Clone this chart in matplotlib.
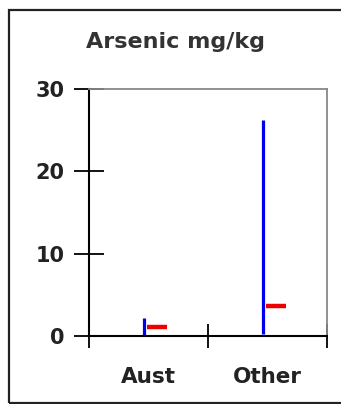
import matplotlib
matplotlib.use("Agg")
from matplotlib import pyplot as plt
from matplotlib.patches import Rectangle

# data (mg/kg)
categories = ['Aust', 'Other']
mins = [0.0, 0.3]
maxs = [2.2, 26.2]
medians = [1.1, 3.6]

plt.rcParams['font.family'] = ['DejaVu Sans']

fig = plt.figure(figsize=(3.41, 4.04), dpi=100)
ax = fig.add_axes([89/341, 1 - 336/404, 238/341, 247/404])

pos = [0.5, 1.5]
ax.vlines([p - 0.034 for p in pos], mins, maxs, color='#0000ee', linewidth=2.3)
ax.hlines(medians, [p - 0.01 for p in pos], [p + 0.155 for p in pos],
          color='#ee0000', linewidth=3.2)

ax.set_xlim(0, 2)
ax.set_ylim(0, 30)
ax.set_yticks([0, 10, 20, 30])
ax.set_yticklabels(['0', '10', '20', '30'], fontsize=15, fontweight='bold',
                   color='#222222')
ax.tick_params(axis='y', direction='inout', length=22, width=1.3, pad=6.5)
ax.set_xticks([0, 1, 2])
ax.set_xticklabels([])
ax.tick_params(axis='x', direction='inout', length=17, width=1.3)
ax.set_xticks(pos, minor=True)
ax.set_xticklabels(categories, minor=True, fontsize=15.5, fontweight='bold',
                   color='#222222')
ax.tick_params(axis='x', which='minor', length=0, pad=22)

for s in ['left', 'bottom']:
    ax.spines[s].set_linewidth(1.5)
    ax.spines[s].set_color('black')
for s in ['top', 'right']:
    ax.spines[s].set_linewidth(1.3)
    ax.spines[s].set_color('#888888')
ax.spines['left'].set_bounds(0, 30)

fig.text(176/341, 1 - 42/404, 'Arsenic mg/kg', ha='center', va='center',
         fontsize=16, fontweight='bold', color='#333333')

# outer frame, right side runs off the image
fig.patches.append(Rectangle((9/341, 1/404), 400/341, 393/404,
                             transform=fig.transFigure, fill=False,
                             edgecolor='#222222', linewidth=1.6))

fig.savefig('out.png', dpi=100)
